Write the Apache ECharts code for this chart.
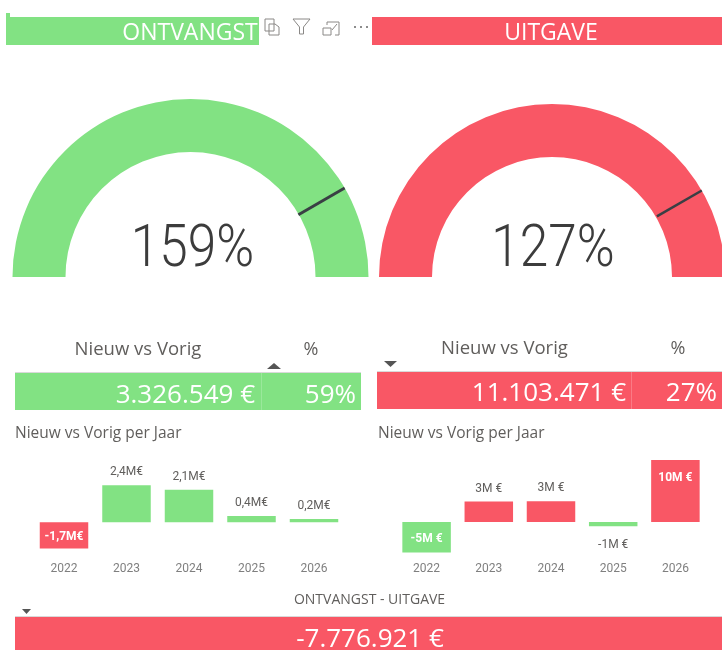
<!DOCTYPE html>
<html>
<head>
<meta charset="utf-8">
<script src="https://cdn.jsdelivr.net/npm/echarts@6/dist/echarts.min.js"></script>
<style>
  html, body { margin: 0; padding: 0; background: #fff; }
  #chart { width: 722px; height: 650px; }
</style>
</head>
<body>
<div id="chart"></div>
<script>
const GREEN = '#82E283';
const RED = '#F95765';
const FONT = '"Open Sans", sans-serif';
const NUM_FONT = 'Roboto, sans-serif';
const TEXT_GREY = '#605E5C';
const ICON_GREY = '#8A8886';

// gauges
const gaugeTitles = ['ONTVANGST', 'UITGAVE'];
const gaugeValues = [159, 127];
const gaugeTargets = [100, 100];
const gaugeMax = [120, 120];

// kpi cards
const kpiAmounts = ['3.326.549 €', '11.103.471 €'];
const kpiPercents = ['59%', '27%'];
const balanceLabel = 'ONTVANGST - UITGAVE';
const balanceAmount = '-7.776.921 €';

// yearly bars
const years = ['2022', '2023', '2024', '2025', '2026'];
const ontvangstPerJaar = [-1.7, 2.4, 2.1, 0.4, 0.2];
const ontvangstLabels = ['-1,7M€', '2,4M€', '2,1M€', '0,4M€', '0,2M€'];
const uitgavePerJaar = [-4.9, 3.3, 3.35, -0.7, 10];
const uitgaveLabels = ['-5M €', '3M €', '3M €', '-1M €', '10M €'];

const chart = echarts.init(document.getElementById('chart'), null, { renderer: 'canvas' });

const txt = (x, y, text, size, fill, align, extra) => ({
  type: 'text',
  x, y,
  silent: true,
  style: Object.assign({
    text, fill,
    font: `${size}px ${FONT}`,
    align: align || 'left',
    verticalAlign: 'middle'
  }, extra || {})
});
const box = (x, y, width, height, fill) => ({
  type: 'rect',
  silent: true,
  z: -1,
  shape: { x, y, width, height },
  style: { fill }
});
const triangle = (cx, y, w, h, up, fill) => ({
  type: 'polygon',
  silent: true,
  shape: {
    points: up
      ? [[cx - w / 2, y + h], [cx + w / 2, y + h], [cx, y]]
      : [[cx - w / 2, y], [cx + w / 2, y], [cx, y + h]]
  },
  style: { fill }
});
const outline = (points, closed) => ({
  type: closed ? 'polygon' : 'polyline',
  silent: true,
  shape: { points },
  style: { fill: 'none', stroke: ICON_GREY, lineWidth: 1 }
});
const dot = cx => ({
  type: 'circle',
  silent: true,
  shape: { cx, cy: 27, r: 1 },
  style: { fill: '#666' }
});

const gaugeSeries = (center, radius, color, value, target, max, tickWidth) => {
  const base = {
    type: 'gauge',
    center,
    radius,
    startAngle: 180,
    endAngle: 0,
    min: 0,
    max,
    axisTick: { show: false },
    splitLine: { show: false },
    axisLabel: { show: false },
    title: { show: false },
    detail: { show: false },
    animation: false
  };
  return [
    Object.assign({}, base, {
      axisLine: { roundCap: false, lineStyle: { width: 53, color: [[1, color]] } },
      pointer: { show: false },
      data: [{ value }]
    }),
    // target tick across the arc band
    Object.assign({}, base, {
      axisLine: { show: false },
      pointer: {
        show: true,
        icon: 'rect',
        width: tickWidth,
        length: '30%',
        offsetCenter: [0, '-70%'],
        itemStyle: { color: '#3A3F44' }
      },
      z: 5,
      data: [{ value: target }]
    })
  ];
};

const labelDistance = { top: 9, bottom: 11, insideTop: 10, inside: 0 };

const barSeries = (gridIndex, values, labels, colorOf) => ({
  type: 'bar',
  xAxisIndex: gridIndex,
  yAxisIndex: gridIndex,
  barWidth: 48.5,
  animation: false,
  data: values.map((v, i) => {
    const inside = v <= -1.7 || v >= 10;
    const position = inside ? (v < 0 ? 'inside' : 'insideTop') : (v < 0 ? 'bottom' : 'top');
    return {
      value: v,
      itemStyle: { color: colorOf(v) },
      label: {
        show: true,
        formatter: labels[i],
        position,
        distance: labelDistance[position],
        offset: [0, 2],
        color: inside ? '#fff' : TEXT_GREY,
        fontWeight: inside ? 'bold' : 'normal',
        fontSize: 12,
        fontFamily: NUM_FONT
      }
    };
  })
});

const xAxisFor = gridIndex => ({
  gridIndex,
  type: 'category',
  data: years,
  position: 'bottom',
  axisLine: { show: false, onZero: false },
  axisTick: { show: false },
  axisLabel: { color: '#7F7F7F', fontSize: 12, fontFamily: NUM_FONT, margin: 10 }
});
const yAxisFor = (gridIndex, min, max) => ({
  gridIndex,
  type: 'value',
  min, max,
  show: false,
  splitLine: { show: false }
});

const bigNumber = (x, text) => Object.assign(
  txt(x, 251, text, 59, '#3C3C3C', 'center', { font: `300 59px ${NUM_FONT}` }),
  { scaleX: 0.87 }
);

chart.setOption({
  backgroundColor: '#fff',
  animation: false,
  grid: [
    { left: 32.75, top: 476, width: 312.5, height: 77 },
    { left: 395.5, top: 460, width: 311, height: 93 }
  ],
  xAxis: [xAxisFor(0), xAxisFor(1)],
  yAxis: [yAxisFor(0, -2, 3), yAxisFor(1, -5, 10)],
  series: [
    ...gaugeSeries([190.5, 277], 178, GREEN, gaugeValues[0], gaugeTargets[0], gaugeMax[0], 3),
    ...gaugeSeries([552, 277], 173, RED, gaugeValues[1], gaugeTargets[1], gaugeMax[1], 2.5),
    barSeries(0, ontvangstPerJaar, ontvangstLabels, v => v < 0 ? RED : GREEN),
    barSeries(1, uitgavePerJaar, uitgaveLabels, v => v < 0 ? GREEN : RED)
  ],
  graphic: [
    // header banners
    box(6, 17, 253, 28, GREEN),
    box(6, 13, 4, 4, GREEN),
    box(372, 17, 350, 28, RED),
    txt(190, 33, gaugeTitles[0], 23, '#fff', 'center'),
    txt(551, 33, gaugeTitles[1], 23, '#fff', 'center'),
    // visual header icons
    outline([[265, 19], [274, 19], [274, 31], [265, 31]], true),
    outline([[269, 24], [275, 24], [279, 27], [279, 35], [269, 35]], true),
    outline([[293, 19], [310, 19], [303.5, 27], [303.5, 34], [299.5, 34], [299.5, 27]], true),
    outline([[323, 28], [331, 28], [331, 35], [323, 35]], true),
    outline([[327, 25], [327, 22], [339, 22], [339, 35], [335, 35]], false),
    outline([[332, 30], [337, 24]], false),
    dot(355), dot(361), dot(367),
    // big percent numbers
    bigNumber(192.5, gaugeValues[0] + '%'),
    bigNumber(553, gaugeValues[1] + '%'),
    // kpi headers
    txt(138, 350, 'Nieuw vs Vorig', 18.5, TEXT_GREY, 'center'),
    txt(311, 350, '%', 18, TEXT_GREY, 'center'),
    txt(504.5, 349, 'Nieuw vs Vorig', 18.5, TEXT_GREY, 'center'),
    txt(678, 349, '%', 18, TEXT_GREY, 'center'),
    triangle(274, 363, 14, 6, true, '#555'),
    triangle(390.5, 361, 13, 6, false, '#555'),
    // kpi cards
    box(15, 372, 346, 1, '#D9D9D9'),
    box(377, 371, 345, 1, '#D9D9D9'),
    box(15, 373, 346, 37, GREEN),
    box(377, 372, 345, 37, RED),
    box(261, 373, 1, 37, '#9AE89B'),
    box(631, 372, 1, 37, '#FB7A85'),
    txt(255, 396, kpiAmounts[0], 26, '#fff', 'right'),
    txt(356, 396, kpiPercents[0], 26, '#fff', 'right'),
    txt(626, 394, kpiAmounts[1], 26, '#fff', 'right'),
    txt(717, 394, kpiPercents[1], 26, '#fff', 'right'),
    // bar titles
    txt(15, 434, 'Nieuw vs Vorig per Jaar', 15.5, TEXT_GREY),
    txt(378, 434, 'Nieuw vs Vorig per Jaar', 15.5, TEXT_GREY),
    // bottom balance
    txt(369.5, 600, balanceLabel, 14, TEXT_GREY, 'center'),
    triangle(26.5, 609, 9, 5, false, '#555'),
    box(15, 616, 707, 1, '#D9D9D9'),
    box(15, 617, 707, 33, RED),
    txt(370, 640, balanceAmount, 26, '#fff', 'center')
  ]
});
</script>
</body>
</html>
